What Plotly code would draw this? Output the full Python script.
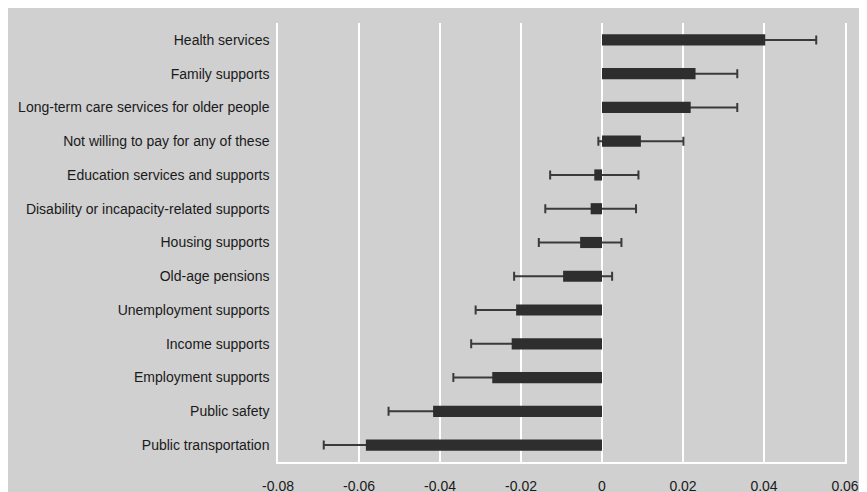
import plotly.graph_objects as go

categories = [
    "Health services",
    "Family supports",
    "Long-term care services for older people",
    "Not willing to pay for any of these",
    "Education services and supports",
    "Disability or incapacity-related supports",
    "Housing supports",
    "Old-age pensions",
    "Unemployment supports",
    "Income supports",
    "Employment supports",
    "Public safety",
    "Public transportation",
]
values = [0.0403, 0.0231, 0.0219, 0.0096, -0.0019, -0.0028, -0.0054, -0.0096,
          -0.0212, -0.0223, -0.0271, -0.0417, -0.0583]
errors = [0.0126, 0.0103, 0.0115, 0.0105, 0.0109, 0.0112, 0.0102, 0.0121,
          0.0100, 0.0100, 0.0096, 0.0110, 0.0104]
tick_vals = [-0.08, -0.06, -0.04, -0.02, 0, 0.02, 0.04, 0.06]
tick_text = ["-0.08", "-0.06", "-0.04", "-0.02", "0", "0.02", "0.04", "0.06"]

BG = "#d0d0d0"
W, H = 867, 492
L, R, T, B = 270, 30, 15, 38

FONT = "Liberation Sans, Arial, sans-serif"

fig = go.Figure()
# error bars (drawn underneath the solid bars)
fig.add_trace(go.Bar(
    y=categories, x=values, orientation="h",
    marker=dict(color="rgba(0,0,0,0)", line=dict(width=0)),
    error_x=dict(type="data", array=errors, visible=True,
                 color="#3a3a3a", thickness=2, width=4.5),
    hoverinfo="skip",
))
fig.add_trace(go.Bar(
    y=categories, x=values, orientation="h",
    marker=dict(color="#2e2e2e", line=dict(width=0)),
))

fig.update_layout(
    width=W, height=H,
    margin=dict(l=L, r=R, t=T, b=B, pad=0, autoexpand=False),
    paper_bgcolor=BG, plot_bgcolor=BG,
    font=dict(family=FONT, size=14, color="#1a1a1a"),
    barmode="overlay",
    bargap=0.67,
    showlegend=False,
    xaxis=dict(
        range=[-0.08, 0.06], tickvals=tick_vals, ticktext=tick_text,
        showgrid=True, gridcolor="white", gridwidth=1.5,
        zeroline=True, zerolinecolor="white", zerolinewidth=1.5,
        showline=True, linecolor="white", linewidth=1.5,
        ticks="", ticklabelstandoff=10, automargin=False,
        tickfont=dict(size=14),
    ),
    yaxis=dict(
        autorange="reversed", showgrid=False, zeroline=False,
        showline=True, linecolor="white", linewidth=1.5, mirror=True,
        ticks="", ticklabelstandoff=4, automargin=False,
        tickfont=dict(size=14),
    ),
)

fig.write_html("out.html")
